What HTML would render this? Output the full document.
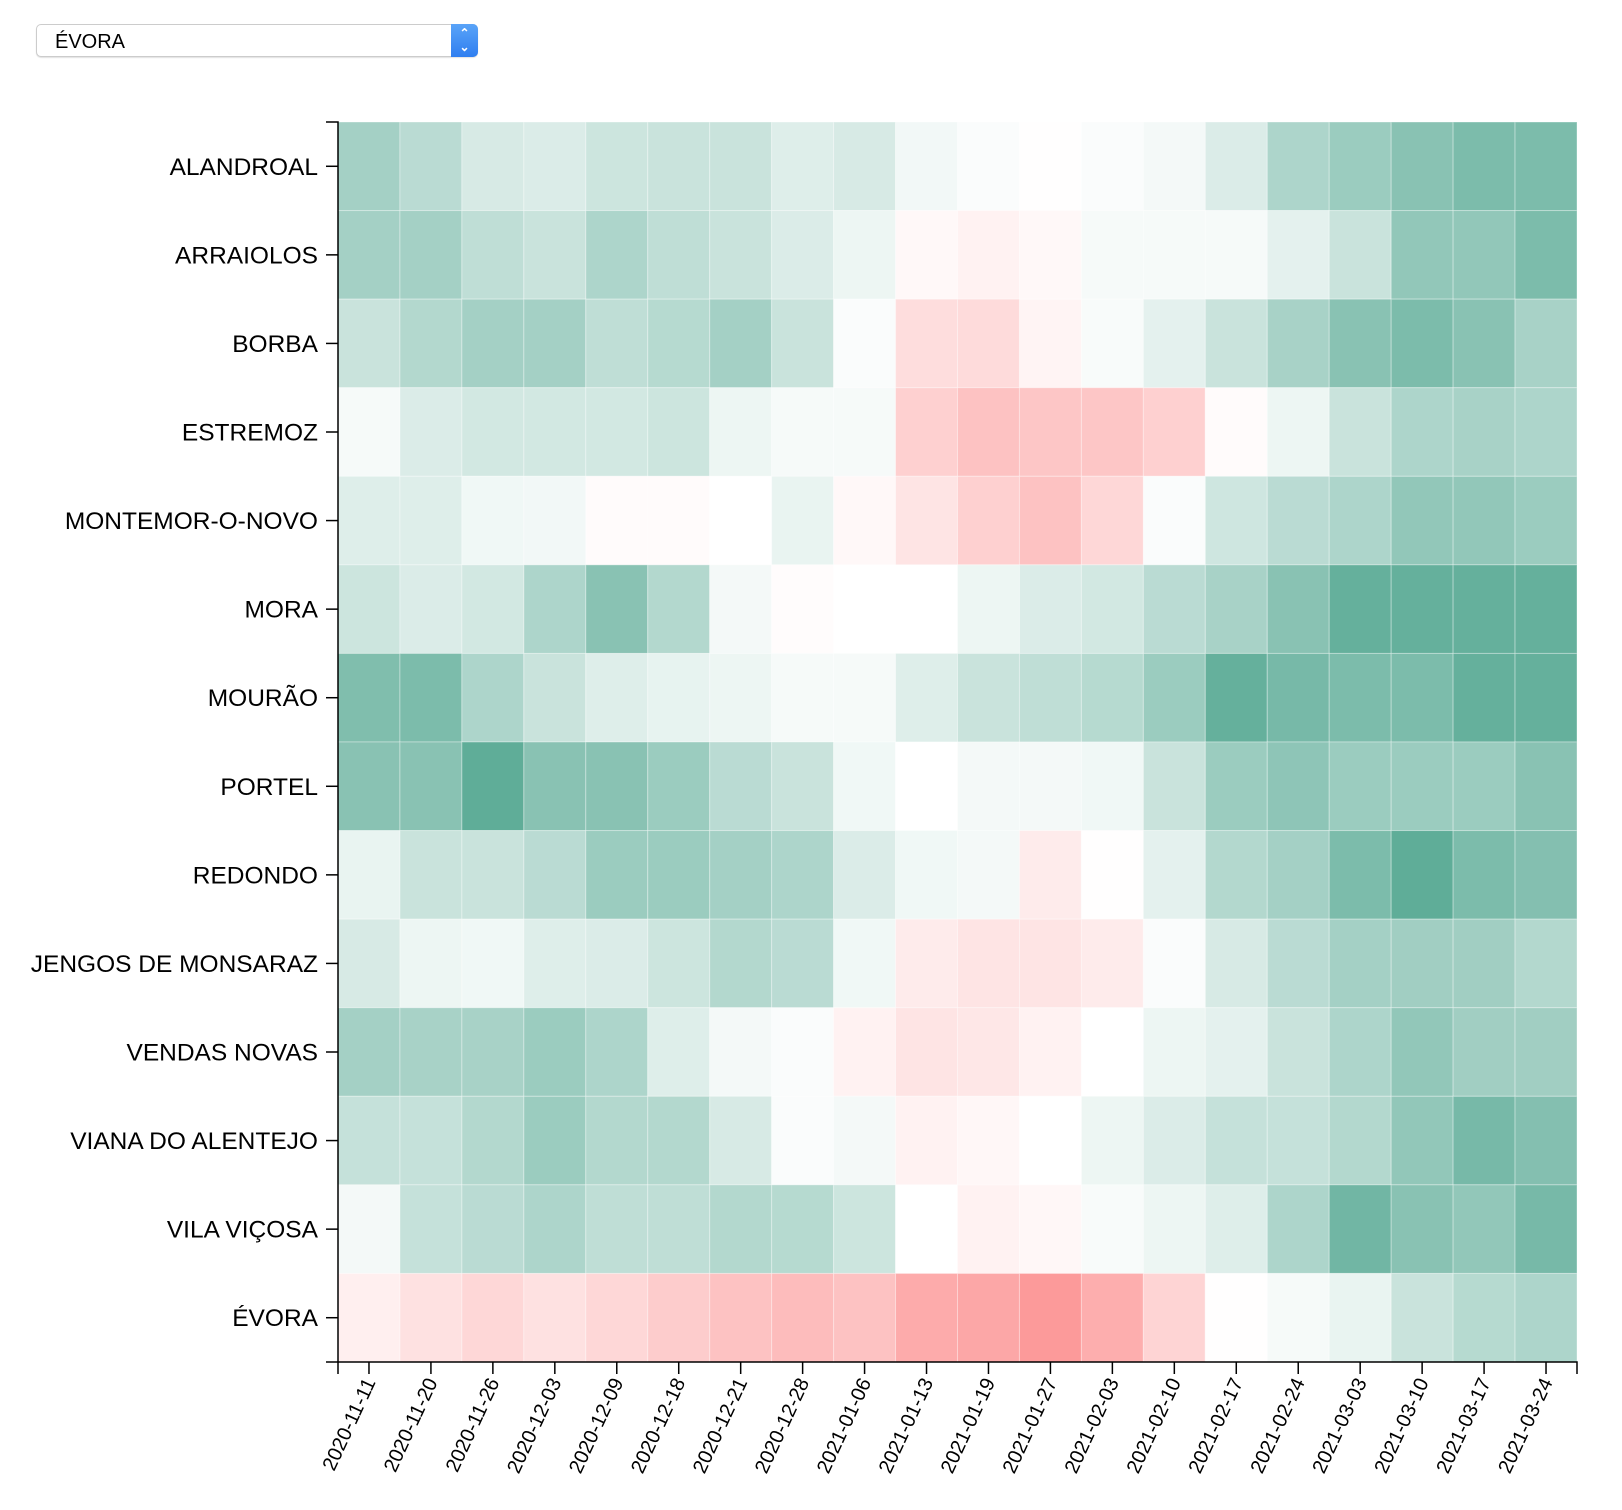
<!DOCTYPE html>
<html><head><meta charset="utf-8"><style>
body{margin:0;background:#fff;width:1622px;height:1510px;overflow:hidden;font-family:"Liberation Sans",sans-serif}
#sel{position:absolute;left:36px;top:24px;width:442px;height:33px;border:1px solid #ccc;border-radius:5px;box-sizing:border-box;background:#fff;box-shadow:0 1px 1px rgba(0,0,0,.12)}
#sel span{position:absolute;left:18px;top:6px;font-size:20px;color:#000}
#sel b{position:absolute;right:-1px;top:-1px;width:27px;height:33px;background:linear-gradient(#5aa4f8,#2f7ef0);border-radius:0 5px 5px 0;color:#fff;font-size:12px;line-height:14px;text-align:center;padding-top:2px;box-sizing:border-box}
</style></head><body>
<div id="sel"><span>ÉVORA</span><b>⌃<br>⌄</b></div>
<svg id="chart" width="1622" height="1510" style="position:absolute;left:0;top:0"></svg>
<script>
const dates=["2020-11-11","2020-11-20","2020-11-26","2020-12-03","2020-12-09","2020-12-18","2020-12-21","2020-12-28","2021-01-06","2021-01-13","2021-01-19","2021-01-27","2021-02-03","2021-02-10","2021-02-17","2021-02-24","2021-03-03","2021-03-10","2021-03-17","2021-03-24"];
const places=["ALANDROAL","ARRAIOLOS","BORBA","ESTREMOZ","MONTEMOR-O-NOVO","MORA","MOURÃO","PORTEL","REDONDO","JENGOS DE MONSARAZ","VENDAS NOVAS","VIANA DO ALENTEJO","VILA VIÇOSA","ÉVORA"];
const vAlandroal=[.5,.38,.22,.2,.28,.3,.3,.18,.22,.07,.03,-.01,.03,.06,.2,.45,.55,.65,.72,.72];
const vArraiolos=[.5,.5,.35,.3,.45,.35,.3,.2,.1,-.05,-.1,-.05,.05,.05,.05,.15,.3,.6,.6,.72];
const vBorba=[.3,.42,.5,.5,.35,.4,.5,.3,.03,-.25,-.27,-.08,.04,.15,.3,.48,.65,.72,.65,.48];
const vEstremoz=[.05,.2,.25,.25,.25,.28,.1,.05,.05,-.35,-.45,-.42,-.42,-.35,-.03,.1,.3,.45,.48,.45];
const vMontemor=[.18,.18,.08,.07,-.03,-.03,0,.12,-.05,-.2,-.35,-.45,-.3,.03,.27,.38,.45,.6,.6,.55];
const vMora=[.28,.2,.25,.45,.65,.42,.06,-.02,0,0,.1,.2,.25,.38,.48,.65,.85,.85,.85,.85];
const vMourao=[.7,.72,.45,.3,.18,.13,.1,.05,.05,.18,.3,.35,.4,.55,.85,.75,.72,.72,.85,.85];
const vPortel=[.65,.65,.88,.65,.65,.55,.38,.3,.08,0,.06,.06,.08,.3,.55,.62,.55,.55,.55,.65];
const vRedondo=[.12,.3,.3,.38,.55,.55,.5,.45,.2,.08,.06,-.15,-.01,.15,.42,.5,.72,.88,.72,.68];
const vJengos=[.22,.1,.08,.18,.2,.28,.42,.38,.08,-.15,-.2,-.2,-.15,.03,.22,.38,.5,.52,.52,.42];
const vVendas=[.5,.48,.48,.55,.45,.18,.06,.03,-.1,-.2,-.18,-.1,0,.1,.15,.3,.45,.6,.52,.52];
const vViana=[.32,.32,.42,.55,.42,.42,.22,.03,.06,-.1,-.06,0,.1,.2,.32,.32,.42,.6,.75,.68];
const vVila=[.06,.32,.38,.45,.35,.35,.42,.4,.28,0,-.1,-.06,.04,.1,.18,.45,.78,.65,.6,.75];
const vEvora=[-.12,-.22,-.3,-.22,-.3,-.38,-.45,-.5,-.45,-.62,-.65,-.75,-.6,-.32,-.01,.05,.12,.3,.4,.45];
const values=[vAlandroal,vArraiolos,vBorba,vEstremoz,vMontemor,vMora,vMourao,vPortel,vRedondo,vJengos,vVendas,vViana,vVila,vEvora];

const L=338,R=1577,T=122,B=1362,TK=12;
const cw=(R-L)/dates.length, ch=(B-T)/places.length;
const xS=i=>L+i*cw, yS=j=>T+j*ch;
function color(v){
  const g=[90,170,149], r=[251,120,120];
  const c=v>=0?g:r, t=Math.min(1,Math.abs(v)*(v>=0?1.1:1));
  return `rgb(${[0,1,2].map(k=>Math.round(255+(c[k]-255)*t)).join(',')})`;
}
const svg=document.getElementById('chart'), NS='http://www.w3.org/2000/svg';
function mk(tag,attrs,parent){const e=document.createElementNS(NS,tag);for(const k in attrs)e.setAttribute(k,attrs[k]);(parent||svg).appendChild(e);return e;}
const cells=mk('g',{});


values.forEach((row,j)=>row.forEach((v,i)=>{
  const rc=mk('rect',{x:xS(i),y:yS(j),width:cw,height:ch,fill:color(v),stroke:'rgba(255,255,255,0.35)','stroke-width':1},cells);
  
  
}));
const ya=mk('g',{});


mk('path',{d:`M${L-TK},${T}H${L}V${B}H${L-TK}`,fill:'none',stroke:'#000','stroke-width':1.5},ya);
places.forEach((p,j)=>{
  const y=yS(j)+ch/2;
  mk('line',{x1:L-TK,x2:L,y1:y,y2:y,stroke:'#000','stroke-width':1.5},ya);
  const t=mk('text',{x:L-20,y:y+8.5,'text-anchor':'end','font-size':24.5,fill:'#000'},ya);
  t.textContent=p;
  
  
});
const xa=mk('g',{});


mk('path',{d:`M${L},${B+TK}V${B}H${R}V${B+TK}`,fill:'none',stroke:'#000','stroke-width':1.5},xa);
dates.forEach((d,i)=>{
  const x=xS(i)+cw/2;
  mk('line',{x1:x,x2:x,y1:B,y2:B+TK,stroke:'#000','stroke-width':1.5},xa);
  const t=mk('text',{transform:`translate(${x+7},${B+20}) rotate(-65)`,'text-anchor':'end','font-size':20,fill:'#000'},xa);
  t.textContent=d;
  
  
});
</script>
</body></html>
